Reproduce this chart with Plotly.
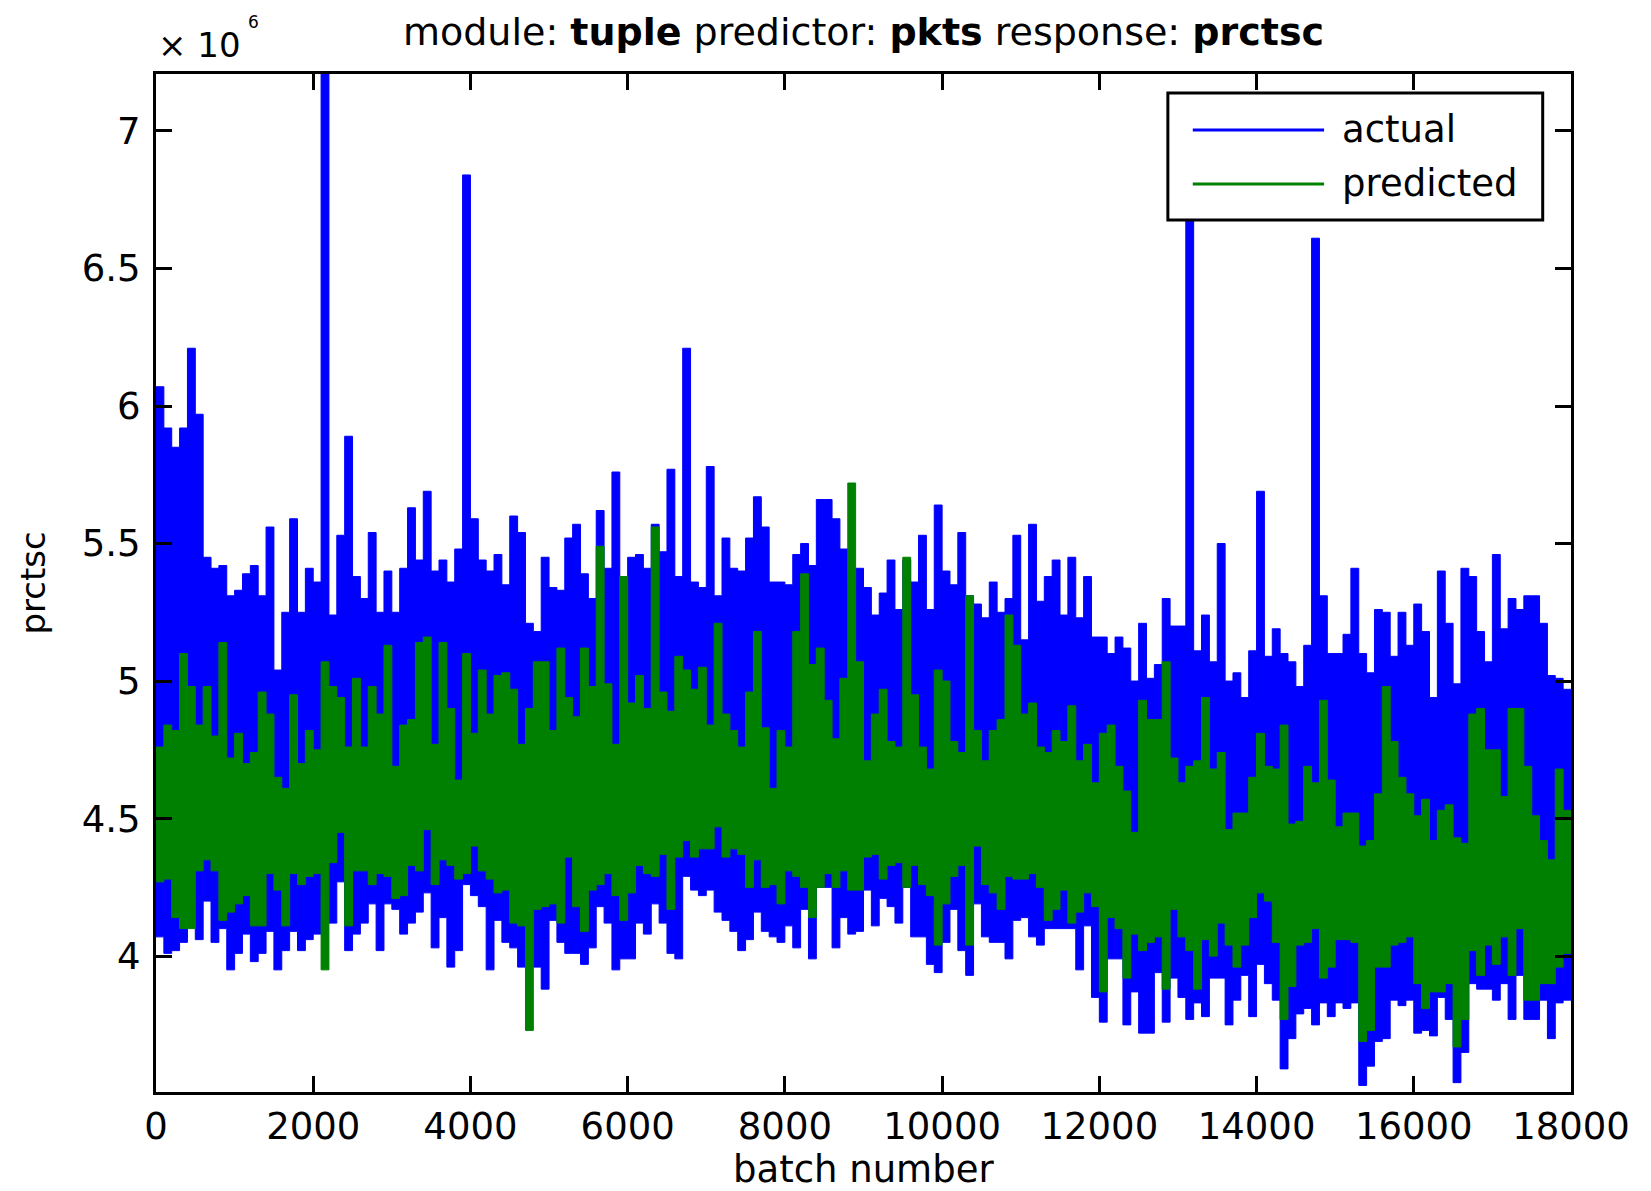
import plotly.graph_objects as go

# Envelope (max / min) of each 100-batch bin, values in units of 10^6
BIN = 100
actual_hi = [
    6.07, 5.92, 5.85, 5.92, 6.21, 5.97, 5.45, 5.41, 5.42, 5.31,
    5.33, 5.39, 5.42, 5.31, 5.56, 5.04, 5.25, 5.59, 5.25, 5.41,
    5.36, 7.45, 5.24, 5.53, 5.89, 5.38, 5.30, 5.54, 5.25, 5.40,
    5.25, 5.41, 5.63, 5.44, 5.69, 5.40, 5.44, 5.36, 5.48, 6.84,
    5.59, 5.44, 5.40, 5.46, 5.35, 5.60, 5.54, 5.21, 5.18, 5.45,
    5.34, 5.33, 5.52, 5.57, 5.39, 5.30, 5.62, 5.41, 5.76, 5.16,
    5.45, 5.46, 5.41, 5.57, 5.47, 5.77, 5.38, 6.21, 5.36, 5.34,
    5.78, 5.31, 5.52, 5.41, 5.40, 5.52, 5.67, 5.56, 5.36, 5.36,
    5.35, 5.46, 5.50, 5.42, 5.66, 5.66, 5.59, 5.48, 5.36, 5.41,
    5.34, 5.24, 5.32, 5.44, 5.26, 5.44, 5.36, 5.53, 5.26, 5.64,
    5.40, 5.35, 5.54, 5.31, 5.28, 5.23, 5.36, 5.25, 5.30, 5.53,
    5.15, 5.57, 5.29, 5.38, 5.44, 5.24, 5.45, 5.23, 5.38, 5.16,
    5.16, 5.10, 5.16, 5.12, 5.00, 5.21, 5.01, 5.06, 5.30, 5.20,
    5.20, 6.95, 5.11, 5.24, 5.07, 5.50, 5.00, 5.03, 4.94, 5.11,
    5.69, 5.09, 5.19, 5.10, 5.07, 4.98, 5.13, 6.61, 5.31, 5.10,
    5.10, 5.17, 5.41, 5.10, 5.03, 5.26, 5.25, 5.09, 5.25, 5.13,
    5.28, 5.18, 4.94, 5.40, 5.21, 4.99, 5.41, 5.38, 5.18, 5.07,
    5.46, 5.19, 5.30, 5.26, 5.31, 5.31, 5.21, 5.02, 5.01, 4.97,
]
actual_lo = [
    4.07, 4.01, 4.02, 4.05, 4.12, 4.06, 4.20, 4.05, 4.10, 3.95,
    4.01, 4.08, 3.98, 4.01, 4.09, 3.95, 4.02, 4.09, 4.02, 4.06,
    4.08, 4.22, 4.12, 4.27, 4.02, 4.08, 4.12, 4.19, 4.02, 4.19,
    4.17, 4.08, 4.12, 4.16, 4.23, 4.03, 4.14, 3.96, 4.02, 4.26,
    4.22, 4.18, 3.95, 4.13, 4.05, 4.03, 3.96, 3.96, 3.96, 3.88,
    4.13, 4.05, 4.01, 4.01, 3.97, 4.03, 4.18, 4.12, 3.95, 3.99,
    3.99, 4.12, 4.08, 4.19, 4.12, 4.01, 3.99, 4.29, 4.24, 4.22,
    4.24, 4.16, 4.13, 4.09, 4.02, 4.06, 4.16, 4.09, 4.07, 4.05,
    4.11, 4.03, 4.17, 3.99, 4.25, 4.25, 4.03, 4.14, 4.08, 4.09,
    4.24, 4.11, 4.21, 4.18, 4.12, 4.25, 4.07, 4.07, 3.97, 3.94,
    4.05, 4.17, 4.02, 3.93, 4.19, 4.07, 4.05, 4.05, 3.99, 4.13,
    4.14, 4.07, 4.04, 4.10, 4.10, 4.10, 4.10, 3.95, 4.11, 3.85,
    3.76, 3.99, 3.99, 3.75, 3.87, 3.72, 3.72, 3.94, 3.76, 3.92,
    3.85, 3.77, 3.83, 3.78, 3.92, 3.92, 3.75, 3.84, 3.93, 3.78,
    3.97, 3.90, 3.84, 3.59, 3.70, 3.79, 3.81, 3.75, 3.83, 3.78,
    3.83, 3.81, 3.83, 3.53, 3.60, 3.69, 3.70, 3.84, 3.82, 3.84,
    3.72, 3.73, 3.71, 3.85, 3.77, 3.54, 3.65, 3.90, 3.88, 3.88,
    3.84, 3.90, 3.77, 3.93, 3.77, 3.77, 3.84, 3.70, 3.83, 3.84,
]
predicted_hi = [
    4.76, 4.84, 4.82, 5.10, 4.98, 4.84, 4.98, 4.80, 5.14, 4.72,
    4.81, 4.70, 4.74, 4.96, 4.88, 4.65, 4.61, 4.95, 4.70, 4.82,
    4.75, 5.07, 4.98, 4.94, 4.76, 5.01, 4.76, 4.98, 4.88, 5.13,
    4.69, 4.84, 4.86, 5.14, 5.16, 4.77, 5.14, 4.90, 4.64, 5.10,
    4.81, 5.04, 4.88, 5.02, 5.03, 4.97, 4.77, 4.90, 5.07, 5.07,
    4.82, 5.12, 4.94, 4.87, 5.12, 4.98, 5.49, 4.99, 4.77, 5.38,
    4.92, 5.02, 4.90, 5.56, 4.96, 4.89, 5.09, 5.04, 4.97, 5.05,
    4.84, 5.21, 4.88, 4.82, 4.76, 4.96, 5.18, 4.83, 4.61, 4.82,
    4.76, 5.18, 5.39, 5.06, 5.12, 4.93, 4.79, 5.01, 5.72, 5.07,
    4.71, 4.88, 4.97, 4.78, 4.76, 5.45, 4.95, 4.76, 4.68, 5.04,
    5.00, 4.78, 4.74, 5.31, 4.82, 4.71, 4.82, 4.86, 5.24, 5.13,
    4.88, 4.92, 4.76, 4.74, 4.82, 4.78, 4.91, 4.71, 4.77, 4.63,
    4.81, 4.84, 4.69, 4.60, 4.45, 4.93, 4.86, 4.86, 5.07, 4.72,
    4.63, 4.69, 4.71, 4.94, 4.68, 4.74, 4.46, 4.52, 4.52, 4.65,
    4.81, 4.69, 4.68, 4.84, 4.48, 4.49, 4.69, 4.63, 4.93, 4.64,
    4.47, 4.52, 4.52, 4.40, 4.42, 4.59, 4.98, 4.78, 4.65, 4.59,
    4.51, 4.57, 4.42, 4.53, 4.55, 4.43, 4.41, 4.88, 4.90, 4.75,
    4.75, 4.58, 4.90, 4.90, 4.69, 4.51, 4.42, 4.35, 4.68, 4.53,
]
predicted_lo = [
    4.27, 4.28, 4.14, 4.10, 4.10, 4.31, 4.35, 4.31, 4.13, 4.16,
    4.19, 4.22, 4.11, 4.11, 4.30, 4.24, 4.11, 4.30, 4.26, 4.29,
    4.30, 3.95, 4.34, 4.45, 4.11, 4.31, 4.31, 4.26, 4.30, 4.29,
    4.21, 4.22, 4.33, 4.31, 4.46, 4.26, 4.35, 4.33, 4.28, 4.30,
    4.40, 4.31, 4.28, 4.23, 4.24, 4.12, 4.11, 3.73, 4.17, 4.18,
    4.19, 4.12, 4.36, 4.18, 4.09, 4.24, 4.26, 4.30, 4.22, 4.13,
    4.23, 4.33, 4.30, 4.29, 4.37, 4.17, 4.36, 4.42, 4.36, 4.39,
    4.39, 4.47, 4.36, 4.39, 4.37, 4.25, 4.35, 4.25, 4.26, 4.19,
    4.31, 4.29, 4.25, 4.14, 4.25, 4.30, 4.25, 4.31, 4.24, 4.24,
    4.36, 4.37, 4.28, 4.33, 4.34, 4.25, 4.33, 4.26, 4.22, 4.04,
    4.19, 4.29, 4.33, 4.04, 4.40, 4.26, 4.23, 4.17, 4.29, 4.28,
    4.28, 4.30, 4.25, 4.13, 4.17, 4.24, 4.12, 4.16, 4.23, 4.18,
    3.87, 4.14, 4.10, 3.92, 4.08, 4.02, 4.05, 4.07, 3.88, 4.17,
    4.07, 4.02, 3.88, 4.06, 4.00, 4.12, 4.04, 3.96, 4.04, 4.14,
    4.23, 4.20, 4.05, 3.77, 3.89, 4.04, 4.05, 4.10, 3.92, 3.96,
    4.06, 4.06, 4.05, 3.69, 3.73, 3.96, 3.96, 4.04, 4.05, 4.07,
    3.90, 3.81, 3.87, 3.87, 3.90, 3.67, 3.77, 4.02, 3.93, 4.04,
    3.97, 4.07, 3.93, 4.10, 3.84, 3.84, 3.90, 3.90, 3.96, 4.01,
]

x_ticks = [0, 2000, 4000, 6000, 8000, 10000, 12000, 14000, 16000, 18000]
x_tick_labels = ["0", "2000", "4000", "6000", "8000", "10000", "12000", "14000", "16000", "18000"]
y_ticks = [4, 4.5, 5, 5.5, 6, 6.5, 7]
y_tick_labels = ["4", "4.5", "5", "5.5", "6", "6.5", "7"]

BLUE = "#0000FF"
GREEN = "#008000"


def steps(vals):
    # bin edges; last value repeated so the final bin is drawn to its right edge
    xs = [k * BIN for k in range(len(vals))] + [len(vals) * BIN]
    ys = list(vals) + [vals[-1]]
    return xs, ys


fig = go.Figure()
for name, hi, lo, color in [("actual", actual_hi, actual_lo, BLUE),
                            ("predicted", predicted_hi, predicted_lo, GREEN)]:
    xl, yl = steps(lo)
    xh, yh = steps(hi)
    fig.add_trace(go.Scatter(x=xl, y=yl, mode="lines", name=name + " (min)",
                             line=dict(color=color, width=1, shape="hv"),
                             showlegend=False, hoverinfo="skip"))
    fig.add_trace(go.Scatter(x=xh, y=yh, mode="lines", name=name,
                             line=dict(color=color, width=1, shape="hv"),
                             fill="tonexty", fillcolor=color, showlegend=False))

FONT = "DejaVu Sans"
fig.update_layout(
    width=1651, height=1191,
    margin=dict(l=156, r=80, t=74, b=99),
    paper_bgcolor="white", plot_bgcolor="white",
    font=dict(family=FONT, size=37, color="black"),
    showlegend=False,
    title=dict(text="module: <b>tuple</b> predictor: <b>pkts</b> response: <b>prctsc</b>",
               x=0.5, xref="paper", xanchor="center",
               y=1 - 32 / 1191, yref="container", yanchor="middle",
               font=dict(family=FONT, size=38, color="black")),
)
axis_style = dict(ticks="inside", ticklen=16, tickwidth=3, tickcolor="black",
                  showline=True, linewidth=3, linecolor="black", mirror="ticks",
                  showgrid=False, zeroline=False, automargin=False)
fig.update_xaxes(range=[0, 18000], tickmode="array", tickvals=x_ticks, ticktext=x_tick_labels,
                 ticklabelstandoff=0, **axis_style)
fig.update_yaxes(range=[3.506, 7.207], tickmode="array", tickvals=y_ticks, ticktext=y_tick_labels,
                 title=dict(text="prctsc", standoff=26, font=dict(family=FONT, size=34, color="black")),
                 ticklabelstandoff=5, **axis_style)

# x-axis title (placed below the tick labels, as in the original)
fig.add_annotation(text="batch number", x=0.5, y=0, xref="paper", yref="paper",
                   xanchor="center", yanchor="middle", yshift=-77, showarrow=False,
                   font=dict(family=FONT, size=37, color="black"))

# exponent label
fig.add_annotation(text="× 10", x=0, y=1, xref="paper", yref="paper",
                   xanchor="left", yanchor="bottom", yshift=7, showarrow=False,
                   font=dict(family=FONT, size=34, color="black"))
fig.add_annotation(text="6", x=(246 - 156) / 1415, y=1, xref="paper", yref="paper",
                   xanchor="left", yanchor="middle", yshift=52, showarrow=False,
                   font=dict(family=FONT, size=17, color="black"))

# MATLAB-style legend box
lx0, lx1, ly0, ly1 = 0.7151, 0.980, 0.8566, 0.9813
fig.add_shape(type="rect", xref="paper", yref="paper", x0=lx0, x1=lx1, y0=ly0, y1=ly1,
              line=dict(color="black", width=3), fillcolor="white", layer="above")
legend_items = [("actual", BLUE, 0.945), ("predicted", GREEN, 0.892)]
for name, color, yy in legend_items:
    fig.add_shape(type="line", xref="paper", yref="paper", x0=0.7327, x1=0.8255, y0=yy, y1=yy,
                  line=dict(color=color, width=3), layer="above")
    fig.add_annotation(text=name, x=0.837, y=yy, xref="paper", yref="paper",
                       xanchor="left", yanchor="middle", showarrow=False,
                       font=dict(family=FONT, size=37, color="black"))

fig.write_html("out.html")
